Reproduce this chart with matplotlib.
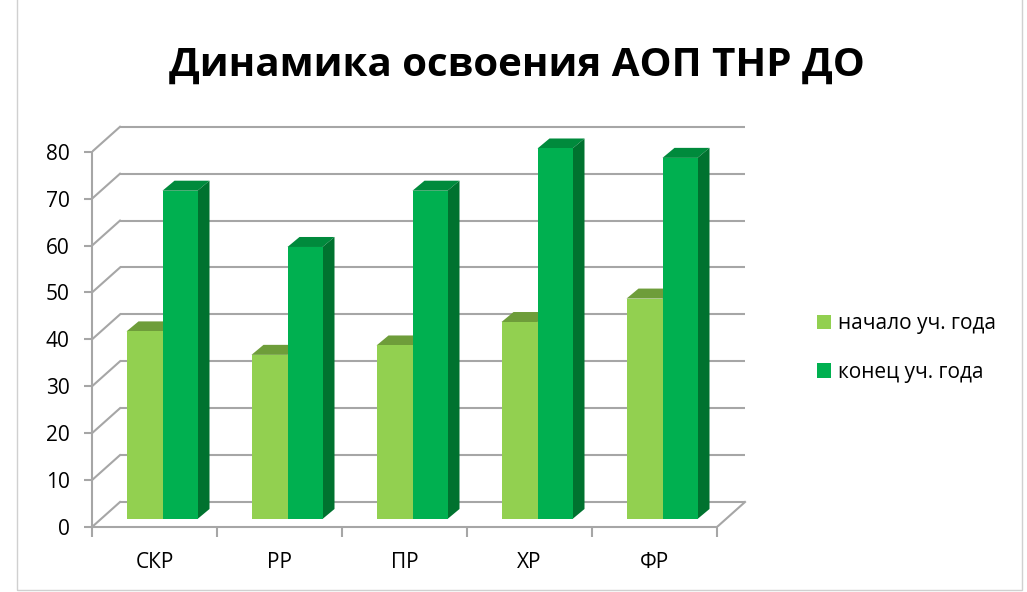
import matplotlib.pyplot as plt
from matplotlib.patches import Polygon, Rectangle
import numpy as np

plt.rcParams['font.family'] = ['Open Sans', 'DejaVu Sans']

categories = ['СКР', 'РР', 'ПР', 'ХР', 'ФР']
start_year = [40, 35, 37, 42, 47]
end_year = [70, 58, 70, 79, 77]
series_names = ['начало уч. года', 'конец уч. года']
yticks = [0, 10, 20, 30, 40, 50, 60, 70, 80]

# pseudo-3d geometry (data units: category / value)
px_x = 125.0   # pixels per category
px_y = 4.69    # pixels per value unit
back_dx, back_dy = 28 / px_x, 25 / px_y      # front -> back wall
bar_dx, bar_dy = 8 / px_x, 8 / px_y          # front -> bar plane
dep_dx, dep_dy = 12 / px_x, 10 / px_y        # bar depth
w_light, w_dark = 0.288, 0.28

grid_c = '#A6A6A6'
colors = {
    'light': ('#92D050', '#6E9D3A', '#5E8A30'),
    'dark': ('#00B050', '#008A3C', '#00722F'),
}

W, H = 1027, 592
fig = plt.figure(figsize=(W / 100, H / 100), dpi=100)

xmin, xmax = -0.5, 4.5 + back_dx + 0.02
ymin, ymax = 0, 80 + back_dy + 0.5
left_px, bottom_px = 92, 527
ax = fig.add_axes([left_px / W, (H - bottom_px) / H,
                   (xmax - xmin) * px_x / W, (ymax - ymin) * px_y / H])
ax.set_xlim(xmin, xmax)
ax.set_ylim(ymin, ymax)
ax.patch.set_alpha(0)

# back wall gridlines + left wall diagonals
for v in yticks:
    ax.plot([-0.5 + back_dx, 4.5 + back_dx], [v + back_dy, v + back_dy],
            color=grid_c, lw=1.5, zorder=1, solid_capstyle='butt')
    ax.plot([-0.5, -0.5 + back_dx], [v, v + back_dy], color=grid_c, lw=1.5, zorder=1)
# floor right edge
ax.plot([4.5, 4.5 + back_dx], [0, back_dy], color=grid_c, lw=1.5, zorder=1)

x = np.arange(len(categories))


def bar3d(xc, vals, width, key):
    front, top, side = colors[key]
    bars = ax.bar(xc, vals, width, bottom=bar_dy, color=front, zorder=3,
                  linewidth=0)
    for b in bars:
        x0, x1 = b.get_x(), b.get_x() + b.get_width()
        y0, y1 = b.get_y(), b.get_y() + b.get_height()
        ax.add_patch(Polygon([(x0, y1), (x1, y1), (x1 + dep_dx, y1 + dep_dy),
                              (x0 + dep_dx, y1 + dep_dy)], closed=True,
                             facecolor=top, lw=0, zorder=2.5))
        ax.add_patch(Polygon([(x1, y0), (x1 + dep_dx, y0 + dep_dy),
                              (x1 + dep_dx, y1 + dep_dy), (x1, y1)], closed=True,
                             facecolor=side, lw=0, zorder=2.5))
    return bars


b1 = bar3d(x + bar_dx - w_light / 2, start_year, w_light, 'light')
b2 = bar3d(x + bar_dx + w_dark / 2, end_year, w_dark, 'dark')

# axes
for s in ['top', 'right']:
    ax.spines[s].set_visible(False)
ax.spines['left'].set_bounds(0, 80)
ax.spines['bottom'].set_bounds(-0.5, 4.5)
for s in ['left', 'bottom']:
    ax.spines[s].set_color(grid_c)
    ax.spines[s].set_linewidth(1.5)
ax.set_yticks(yticks)
ax.set_yticklabels([str(v) for v in yticks])
ax.tick_params(axis='y', length=6, width=1.5, color=grid_c, labelsize=15, pad=10)
ax.set_xticks(x)
ax.set_xticklabels(categories)
ax.set_xticks(np.arange(-0.5, 5.0, 1.0), minor=True)
ax.tick_params(axis='x', which='major', length=0, labelsize=15, pad=18)
ax.tick_params(axis='x', which='minor', length=7, width=1.5, color=grid_c)

fig.suptitle('Динамика освоения АОП ТНР ДО', x=0.503, y=0.922,
             fontsize=29, fontweight='bold')

fig.legend([b1[0], b2[0]], series_names, loc='center left',
           bbox_to_anchor=(798 / W, 1 - 348 / H), frameon=False, fontsize=15,
           handlelength=0.7, handleheight=0.7, handletextpad=0.3,
           labelspacing=1.3)

fig.add_artist(Rectangle((17 / W, 2 / H), 1005 / W, 1.1, transform=fig.transFigure,
                         fill=False, edgecolor='#D0D0D0', lw=1))

fig.savefig('out.png', dpi=100)
